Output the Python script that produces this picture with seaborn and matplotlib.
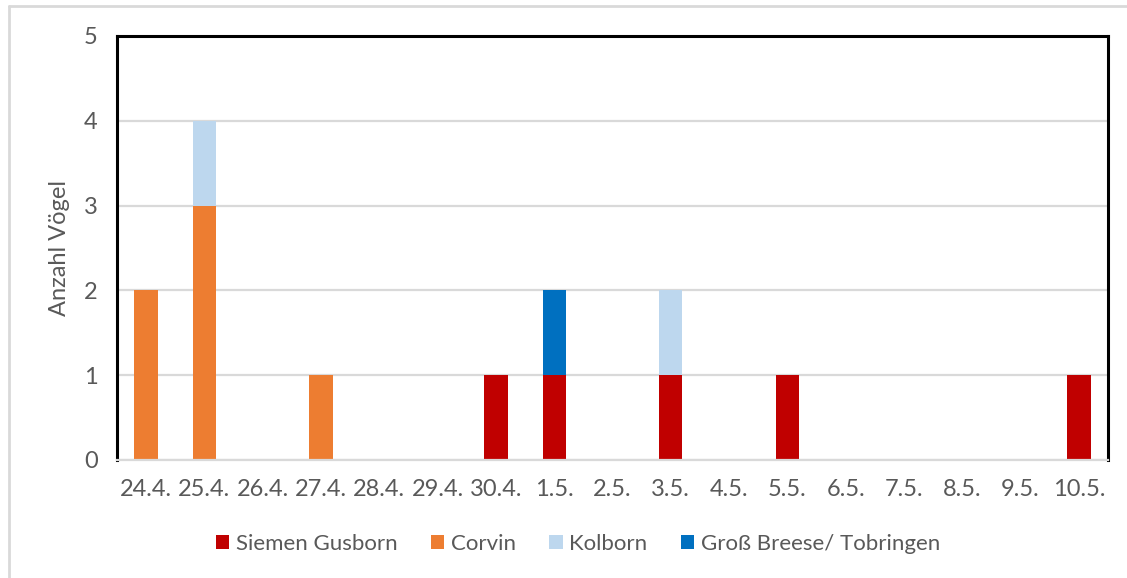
import matplotlib
matplotlib.use("Agg")
import matplotlib.pyplot as plt
from matplotlib.lines import Line2D
from matplotlib.patches import Patch
import numpy as np
import seaborn as sns

# Beobachtungstage
dates = ["24.4.", "25.4.", "26.4.", "27.4.", "28.4.", "29.4.", "30.4.",
         "1.5.", "2.5.", "3.5.", "4.5.", "5.5.", "6.5.", "7.5.", "8.5.",
         "9.5.", "10.5."]

# Anzahl Vögel je Herkunft und Tag
siemen_gusborn = [0, 0, 0, 0, 0, 0, 1, 1, 0, 1, 0, 1, 0, 0, 0, 0, 1]
corvin         = [2, 3, 0, 1, 0, 0, 0, 0, 0, 0, 0, 0, 0, 0, 0, 0, 0]
kolborn        = [0, 1, 0, 0, 0, 0, 0, 0, 0, 1, 0, 0, 0, 0, 0, 0, 0]
gross_breese   = [0, 0, 0, 0, 0, 0, 0, 1, 0, 0, 0, 0, 0, 0, 0, 0, 0]

series_names = ["Siemen Gusborn", "Corvin", "Kolborn", "Groß Breese/ Tobringen"]
series_values = [siemen_gusborn, corvin, kolborn, gross_breese]
series_colors = ["#C00000", "#ED7D31", "#BDD7EE", "#0070C0"]

sns.set_theme(style="white")
plt.rcParams["font.family"] = ["Lato", "DejaVu Sans"]

TEXT = "#595959"
GRID = "#D9D9D9"

fig = plt.figure(figsize=(11.27, 5.78), dpi=100)
ax = fig.add_axes([117 / 1127, 1 - 460 / 578, (1108 - 117) / 1127, (460 - 36) / 578])

# stacked bars, drawn series by series on top of the running total
bottom = np.zeros(len(dates))
for name, vals, col in zip(series_names, series_values, series_colors):
    sns.barplot(x=dates, y=vals, order=dates, bottom=bottom, color=col,
                saturation=1, width=0.4, errorbar=None, linewidth=0, ax=ax)
    bottom = bottom + np.asarray(vals, dtype=float)

ax.set_xlim(-0.5, len(dates) - 0.5)
ax.set_ylim(0, 5)
ax.set_yticks(range(0, 6))
ax.yaxis.grid(True, color=GRID, linewidth=1.6)
ax.xaxis.grid(False)
ax.set_axisbelow(True)

for side in ("left", "top", "right"):
    ax.spines[side].set_color("black")
    ax.spines[side].set_linewidth(2.2)
ax.spines["bottom"].set_color(GRID)
ax.spines["bottom"].set_linewidth(1.6)

ax.tick_params(axis="both", length=0, labelsize=17, labelcolor=TEXT)
ax.tick_params(axis="x", pad=14)
ax.tick_params(axis="y", pad=14)
ax.set_xlabel("")
ax.set_ylabel("Anzahl Vögel", fontsize=17, color=TEXT, labelpad=10)

handles = [Patch(facecolor=c, edgecolor="none") for c in series_colors]
fig.legend(handles, series_names, loc="center",
           bbox_to_anchor=(578 / 1127, 1 - 544 / 578), ncol=4, frameon=False,
           handlelength=0.6, handleheight=0.6, handletextpad=0.3,
           columnspacing=1.5, fontsize=16, labelcolor=TEXT)

# thin outer chart border
fig.add_artist(Line2D([9 / 1127, 9 / 1127], [0, 1 - 6 / 578],
                      transform=fig.transFigure, color=GRID, linewidth=2))
fig.add_artist(Line2D([9 / 1127, 1], [1 - 6 / 578, 1 - 6 / 578],
                      transform=fig.transFigure, color=GRID, linewidth=2))

fig.savefig("out.png", dpi=100, facecolor="white")
